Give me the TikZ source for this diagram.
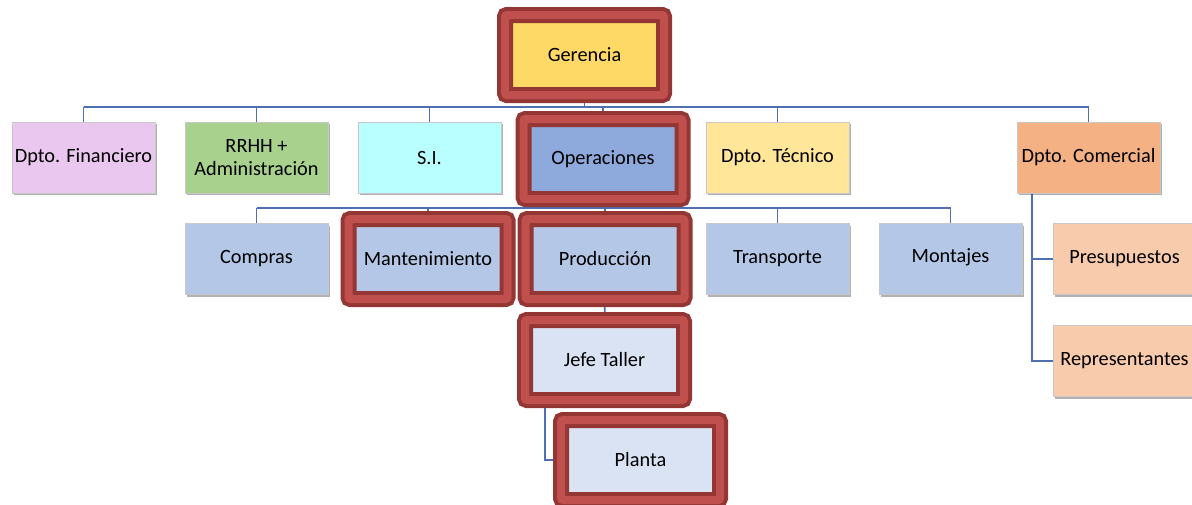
\documentclass[tikz,border=0pt]{standalone}
\usepackage{fontspec}
\setmainfont{Carlito}
\usetikzlibrary{shadows,backgrounds}

\definecolor{gerfill}{HTML}{FFD966}
\definecolor{opfill}{HTML}{8EA9DB}
\definecolor{finfill}{HTML}{EAC7EF}
\definecolor{rrhhfill}{HTML}{A9D18E}
\definecolor{sifill}{HTML}{BAFFFF}
\definecolor{tecfill}{HTML}{FFE699}
\definecolor{comfill}{HTML}{F4B183}
\definecolor{subfill}{HTML}{B4C7E7}
\definecolor{paleblue}{HTML}{DAE3F3}
\definecolor{peach}{HTML}{F8CBAD}
\definecolor{hllight}{HTML}{C0504D}
\definecolor{hldark}{HTML}{943634}
\definecolor{linkblue}{HTML}{4E70B0}

\begin{document}
\begin{tikzpicture}[x=1pt,y=-1pt,
  txt/.style={align=center, text=black, font=\fontsize{20.3}{23}\selectfont, inner sep=2pt},
  box/.style={txt, draw=black!22, line width=0.6pt, minimum width=143pt, minimum height=71pt,
    drop shadow={shadow xshift=1.8pt, shadow yshift=-2.2pt, opacity=0.3, fill=black}},
  hlbox/.style={txt, draw=hldark, double=hllight, line width=4pt, double distance=8pt,
    rounded corners=2pt, minimum width=159pt, minimum height=80pt},
  link/.style={draw=linkblue, line width=1.8pt}
]
\useasboundingbox (0,0) rectangle (1192,504);
\clip (0,0) rectangle (1192,504);

% top level
\node[hlbox, fill=gerfill] (ger) at (584.5,55) {Gerencia};

% departments
\node[box, fill=finfill]  (fin) at (83.5,157.5)  {Dpto. Financiero};
\node[box, fill=rrhhfill] (rrhh) at (256.5,157.5) {RRHH +\\Administración};
\node[box, fill=sifill]   (si)  at (429.5,157.5) {S.I.};
\node[hlbox, fill=opfill] (op)  at (603,159)     {Operaciones};
\node[box, fill=tecfill]  (tec) at (777.5,157.5) {Dpto. Técnico};
\node[box, fill=comfill]  (com) at (1088.5,157.5) {Dpto. Comercial};

% operations units
\node[box, fill=subfill]    (comp)  at (256.5,259) {Compras};
\node[hlbox, fill=subfill]  (mant)  at (428,259)   {Mantenimiento};
\node[hlbox, fill=subfill]  (prod)  at (605,259)   {Producción};
\node[box, fill=subfill]    (trans) at (777.5,259) {Transporte};
\node[box, fill=subfill]    (mont)  at (950.5,259) {\raisebox{6pt}{Montajes}};

% production chain
\node[hlbox, fill=paleblue] (jefe)   at (604.5,360) {Jefe Taller};
\node[hlbox, fill=paleblue] (planta) at (640.5,460) {Planta};

% commercial units
\node[box, fill=peach] (pres) at (1124.5,259) {Presupuestos};
\node[box, fill=peach] (rep)  at (1124.5,361) {Representantes};

% white page and connectors, behind the boxes
\begin{scope}[on background layer]
  \fill[white] (0,0) rectangle (1192,504);
  \coordinate (busA) at (0,107);
  \coordinate (busB) at (0,208);
  \draw[link] (fin.north |- busA) -- (com.north |- busA);
  \draw[link] (ger.south) -- (ger.south |- busA);
  \foreach \n in {fin,rrhh,si,tec,com}
    \draw[link] (\n.north) -- (\n.north |- busA);
  \draw[link] (op.north) -- (op.north |- busA);

  \draw[link] (comp.north |- busB) -- (mont.north |- busB);
  \draw[link] (op.south) -- (op.south |- busB);
  \foreach \n in {comp,mant,prod,trans,mont}
    \draw[link] (\n.north) -- (\n.north |- busB);

  \draw[link] (prod.south) -- (jefe.north);
  \draw[link] ([xshift=22pt]jefe.south west) |- (planta.west);

  \draw[link] ([xshift=15pt]com.south west) |- (pres.west);
  \draw[link] ([xshift=15pt]com.south west) |- (rep.west);
\end{scope}
\end{tikzpicture}
\end{document}
